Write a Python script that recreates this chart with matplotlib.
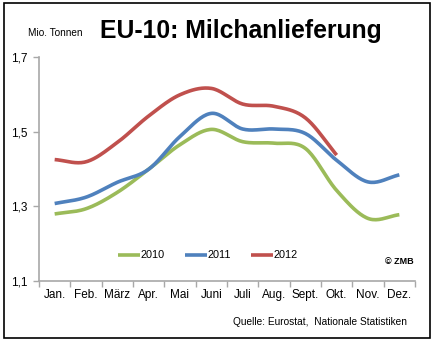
import numpy as np
import matplotlib
matplotlib.use("Agg")
import matplotlib.pyplot as plt
from matplotlib.patches import Rectangle

plt.rcParams['font.family'] = ['Liberation Sans', 'DejaVu Sans']

months = ['Jan.', 'Feb.', 'März', 'Apr.', 'Mai', 'Juni', 'Juli', 'Aug.', 'Sept.', 'Okt.', 'Nov.', 'Dez.']
y2010 = [1.280, 1.294, 1.338, 1.400, 1.466, 1.507, 1.474, 1.470, 1.456, 1.343, 1.268, 1.278]
y2011 = [1.308, 1.325, 1.365, 1.400, 1.488, 1.550, 1.508, 1.508, 1.496, 1.424, 1.366, 1.385]
y2012 = [1.426, 1.420, 1.472, 1.543, 1.600, 1.617, 1.575, 1.569, 1.538, 1.438]
colors = {'2010': '#9BBB59', '2011': '#4F81BD', '2012': '#C0504D'}


def smooth(x, y, n=20):
    # catmull-rom, like excel's smoothed lines
    x = np.asarray(x, float)
    y = np.asarray(y, float)
    px = np.concatenate([[2 * x[0] - x[1]], x, [2 * x[-1] - x[-2]]])
    py = np.concatenate([[2 * y[0] - y[1]], y, [2 * y[-1] - y[-2]]])
    xs, ys = [], []
    t = np.linspace(0, 1, n, endpoint=False)
    for i in range(1, len(px) - 2):
        for p, out in ((px, xs), (py, ys)):
            p0, p1, p2, p3 = p[i - 1], p[i], p[i + 1], p[i + 2]
            out.extend(0.5 * (2 * p1 + (-p0 + p2) * t + (2 * p0 - 5 * p1 + 4 * p2 - p3) * t ** 2
                              + (-p0 + 3 * p1 - 3 * p2 + p3) * t ** 3))
    xs.append(x[-1])
    ys.append(y[-1])
    return xs, ys


fig = plt.figure(figsize=(4.35, 3.41), dpi=100)
ax = fig.add_axes([39 / 435, 1 - 281 / 341, 376 / 435, 223.5 / 341])

for label, vals in (('2010', y2010), ('2011', y2011), ('2012', y2012)):
    xs, ys = smooth(np.arange(1, len(vals) + 1), vals)
    ax.plot(xs, ys, color=colors[label], lw=2.6, solid_capstyle='butt', label=label)

ax.set_xlim(0.5, 12.5)
ax.set_ylim(1.1, 1.7)
ax.set_yticks([1.1, 1.3, 1.5, 1.7])
ax.set_yticklabels(['1,1', '1,3', '1,5', '1,7'], fontsize=8.5)
ax.set_xticks(np.arange(0.5, 13, 1))
ax.set_xticklabels([])
ax.set_xticks(np.arange(1, 13), minor=True)
ax.set_xticklabels(months, minor=True, fontsize=8.5)
ax.tick_params(axis='x', which='minor', length=0, pad=6)
ax.tick_params(axis='both', which='major', length=4, color='#A8A8A8', width=1)
ax.tick_params(axis='y', pad=4)
for s in ('top', 'right'):
    ax.spines[s].set_visible(False)
for s in ('left', 'bottom'):
    ax.spines[s].set_color('#A8A8A8')
    ax.spines[s].set_linewidth(1.2)

ax.legend(loc='center', bbox_to_anchor=(208 / 435, 1 - 255.5 / 341), bbox_transform=fig.transFigure,
          ncol=3, frameon=False, fontsize=7.8, handlelength=2.0, handletextpad=0.05,
          columnspacing=1.9)

fig.text(241 / 435, 1 - 31 / 341, 'EU-10: Milchanlieferung', ha='center', va='center',
         fontsize=17.8, fontweight='bold')
fig.text(28 / 435, 1 - 33 / 341, 'Mio. Tonnen', ha='left', va='center', fontsize=7.2)
fig.text(385 / 435, 1 - 262 / 341, '© ZMB', ha='left', va='center', fontsize=6.5, fontweight='bold')
fig.text(407 / 435, 1 - 322 / 341, 'Quelle: Eurostat,  Nationale Statistiken', ha='right',
         va='center', fontsize=7.3)

fig.patches.append(Rectangle((4 / 435, 3 / 341), 426 / 435, 335 / 341, transform=fig.transFigure,
                             fill=False, edgecolor='black', lw=1.2))

fig.savefig('out.png', dpi=100)
